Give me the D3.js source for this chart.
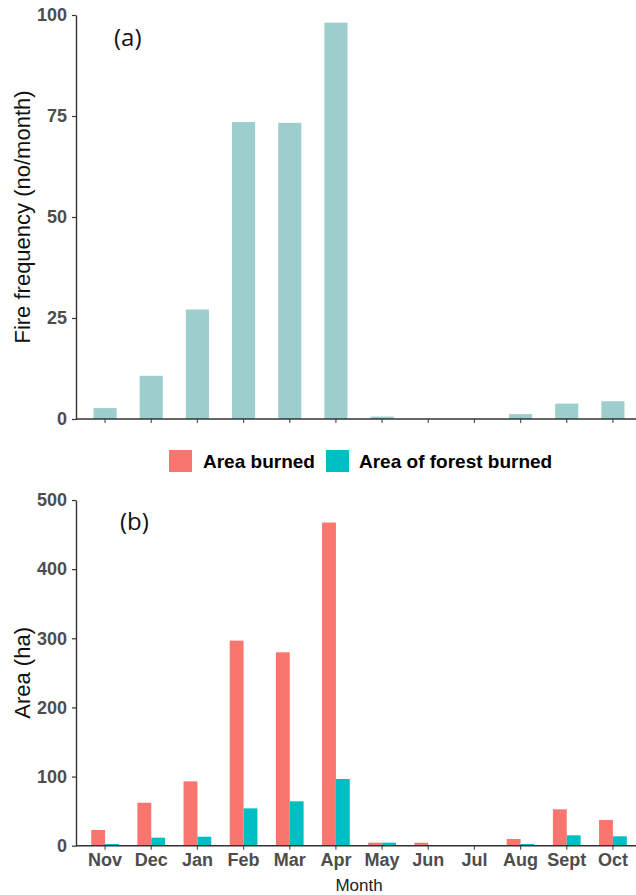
<!DOCTYPE html>
<html>
<head>
<meta charset="utf-8">
<script src="https://cdn.jsdelivr.net/npm/d3@7"></script>
<style>
  body { margin: 0; background: #fff; }
  svg { display: block; font-family: "Liberation Sans", Arial, sans-serif; }
</style>
</head>
<body>
<svg id="chart" width="636" height="895"></svg>
<script>
// datos
const months = ["Nov", "Dec", "Jan", "Feb", "Mar", "Apr", "May", "Jun", "Jul", "Aug", "Sept", "Oct"]
const fireFrequency = [2.7, 10.7, 27.1, 73.5, 73.3, 98.1, 0.6, 0, 0, 1.2, 3.8, 4.4]
const areaBurned = [22.7, 62.2, 93.1, 296.6, 279.7, 467.4, 4.4, 4.3, 0, 9.7, 52.6, 37.2]
const forestBurned = [2.5, 11.6, 13, 54, 64.2, 96.5, 4.4, 0, 0, 2.5, 15, 13.6]
const series = ["Area burned", "Area of forest burned"]
const freqTicks = [0, 25, 50, 75, 100]
const areaTicks = [0, 100, 200, 300, 400, 500]

const svg = d3.select("#chart")
const axisX0 = 76, axisX1 = 636

const color = d3.scaleOrdinal().domain(series).range(["#F8766D", "#00BFC4"])

function styleYAxis(g) {
    g.select(".domain").attr("stroke", "#333").attr("stroke-width", 1.4)
    g.selectAll(".tick line").attr("stroke", "#333").attr("stroke-width", 1.2)
    g.selectAll(".tick text")
        .attr("fill", "#4d4d4d")
        .attr("font-size", 18)
        .attr("font-weight", "bold")
        .attr("x", -9)
}

// ---------- panel (a): frecuencia de incendios ----------
const xa = d3.scaleBand().domain(months).range([82, 636]).paddingInner(0.5).paddingOuter(0.25)
const ya = d3.scaleLinear().domain([0, 100]).range([419, 15])

svg.append("g").selectAll("rect")
    .data(months.map((m, i) => ({ m, v: fireFrequency[i] })))
    .join("rect")
    .attr("x", d => xa(d.m))
    .attr("width", xa.bandwidth())
    .attr("y", d => ya(d.v))
    .attr("height", d => ya(0) - ya(d.v))
    .attr("fill", "#9DCDCD")

svg.append("g")
    .attr("transform", `translate(${axisX0},0)`)
    .call(d3.axisLeft(ya).tickValues(freqTicks).tickSize(4).tickSizeOuter(0))
    .call(styleYAxis)

const xaAxis = svg.append("g")
    .attr("transform", `translate(0,${ya(0)})`)
    .call(d3.axisBottom(xa).tickSize(4).tickFormat(""))
xaAxis.select(".domain").remove()
xaAxis.selectAll(".tick line").attr("stroke", "#555").attr("stroke-width", 1.2)
svg.append("line")
    .attr("x1", axisX0).attr("x2", axisX1)
    .attr("y1", ya(0)).attr("y2", ya(0))
    .attr("stroke", "#333").attr("stroke-width", 1.4)

svg.append("text")
    .attr("transform", `translate(30,${(ya(0) + ya(100)) / 2}) rotate(-90)`)
    .attr("text-anchor", "middle")
    .attr("font-size", 22)
    .attr("fill", "#111")
    .text("Fire frequency (no/month)")

svg.append("text")
    .attr("x", 114).attr("y", 46)
    .attr("font-family", "'Open Sans', sans-serif")
    .attr("font-size", 24)
    .attr("fill", "#111")
    .text("(a)")

// ---------- leyenda ----------
const legendPos = [{ x: 169, tx: 203 }, { x: 326, tx: 359 }]
const legend = svg.append("g").selectAll("g")
    .data(series)
    .join("g")
legend.append("rect")
    .attr("x", (d, i) => legendPos[i].x)
    .attr("y", 450)
    .attr("width", 23).attr("height", 22)
    .attr("fill", d => color(d))
legend.append("text")
    .attr("x", (d, i) => legendPos[i].tx)
    .attr("y", 468)
    .attr("font-size", 19)
    .attr("font-weight", "bold")
    .attr("fill", "#000")
    .text(d => d)

// ---------- panel (b): area quemada ----------
const xb = d3.scaleBand().domain(months).range([82, 636]).paddingInner(0.4).paddingOuter(0.2)
const xSub = d3.scaleBand().domain(series).range([0, xb.bandwidth()])
const yb = d3.scaleLinear().domain([0, 500]).range([845.7, 500])

const rows = months.map((m, i) => ({ m, vals: [areaBurned[i], forestBurned[i]] }))

svg.append("g").selectAll("g")
    .data(rows)
    .join("g")
    .attr("transform", d => `translate(${xb(d.m)},0)`)
    .selectAll("rect")
    .data(d => series.map((s, j) => ({ s, v: d.vals[j] })))
    .join("rect")
    .attr("x", d => xSub(d.s))
    .attr("width", xSub.bandwidth())
    .attr("y", d => yb(d.v))
    .attr("height", d => yb(0) - yb(d.v))
    .attr("fill", d => color(d.s))

svg.append("g")
    .attr("transform", `translate(${axisX0},0)`)
    .call(d3.axisLeft(yb).tickValues(areaTicks).tickSize(4).tickSizeOuter(0))
    .call(styleYAxis)

const xbAxis = svg.append("g")
    .attr("transform", `translate(0,${yb(0)})`)
    .call(d3.axisBottom(xb).tickSize(4))
xbAxis.select(".domain").remove()
xbAxis.selectAll(".tick line").attr("stroke", "#555").attr("stroke-width", 1.2)
xbAxis.selectAll(".tick text")
    .attr("fill", "#4d4d4d")
    .attr("font-size", 18)
    .attr("font-weight", "bold")
    .attr("y", 8)
svg.append("line")
    .attr("x1", axisX0).attr("x2", axisX1)
    .attr("y1", yb(0)).attr("y2", yb(0))
    .attr("stroke", "#333").attr("stroke-width", 1.4)

svg.append("text")
    .attr("transform", `translate(30,${(yb(0) + yb(500)) / 2}) rotate(-90)`)
    .attr("text-anchor", "middle")
    .attr("font-size", 22)
    .attr("fill", "#111")
    .text("Area (ha)")

svg.append("text")
    .attr("x", 359).attr("y", 891)
    .attr("text-anchor", "middle")
    .attr("font-size", 17)
    .attr("fill", "#222")
    .text("Month")

svg.append("text")
    .attr("x", 120).attr("y", 530)
    .attr("font-family", "'Open Sans', sans-serif")
    .attr("font-size", 24)
    .attr("fill", "#111")
    .text("(b)")
</script>
</body>
</html>
